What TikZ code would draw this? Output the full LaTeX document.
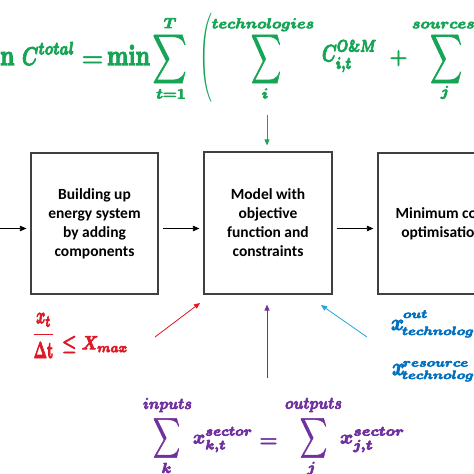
\documentclass[tikz,border=0pt]{standalone}
\usepackage{amsmath}
\usepackage[no-math]{fontspec}
\setmainfont{Carlito}
\usetikzlibrary{arrows.meta}
\definecolor{eqgreen}{RGB}{22,165,85}
\definecolor{eqred}{RGB}{222,24,36}
\definecolor{eqblue}{RGB}{0,112,192}
\definecolor{arrblue}{RGB}{35,165,220}
\definecolor{eqpurple}{RGB}{112,48,160}
\definecolor{boxgray}{RGB}{64,64,64}
\newcommand\heavy[1]{\special{pdf:literal direct 2 Tr #1 w}}
\newcommand\light{\special{pdf:literal direct 0 Tr}}
\newcommand\fitmath[3]{\resizebox*{#1pt}{#2pt}{\heavy{0.4}\boldmath$\displaystyle #3$\light}}
\newcommand\sumfit[2]{\resizebox*{#1pt}{#2pt}{\heavy{0.2}\boldmath$\displaystyle\sum$\light}}
\newcommand\limtxt[1]{\scalebox{1.1}[1]{\heavy{0.65}\fontsize{15.8}{16}\selectfont\boldmath$#1$\light}}
\newcommand\subtxt[1]{\scalebox{1.2}[1]{\heavy{0.55}\fontsize{12.4}{13}\selectfont\boldmath$#1$\light}}
\newcommand\symtxt[2]{{\heavy{0.5}\fontsize{#1}{#1}\selectfont\boldmath$#2$\light}}
\begin{document}
\begin{tikzpicture}[x=1pt,y=-1pt,
  piece/.style={inner sep=0pt, outer sep=0pt},
  blockbox/.style={draw=boxgray, line width=1.2pt, fill=white, minimum width=127pt,
    minimum height=141pt, align=center, inner sep=0pt,
    font=\fontsize{15.5}{19}\selectfont\bfseries},
  flow/.style={-{Triangle[length=6.5pt,width=5.5pt]}, line width=0.8pt},
  hint/.style={-{Triangle[length=6pt,width=5pt]}, line width=0.8pt}]
\useasboundingbox (0,0) rectangle (474,474);
\fill[white] (0,0) rectangle (474,474);
\clip (0,0) rectangle (474,474);

% boxes
\node[blockbox] (build) at (94.5,223.5) {Building up\\energy system\\by adding\\components};
\node[blockbox, minimum width=128pt, minimum height=142pt] (model) at (268,223) {Model with\\objective\\function and\\constraints};
\node[blockbox, minimum width=128pt] (mincost) at (442,223.5) {Minimum cost\\optimisation};

% main flow
\coordinate (leftin) at (-5,228.5);
\draw[flow, shorten >=4pt] (leftin) -- (build.west |- leftin);
\draw[flow, shorten <=4pt, shorten >=4pt] (build.east |- leftin) -- (model.west |- leftin);
\draw[flow, shorten <=4pt, shorten >=4pt] (model.east |- leftin) -- (mincost.west |- leftin);

% objective (green)
\begin{scope}[every node/.style={piece, text=eqgreen}]
\node[anchor=north east] (gmin1) at (14.5,45) {\fitmath{43}{20}{\mathbf{min}}};
\node[anchor=north west] (gC) at (22,42) {\fitmath{53}{23}{C^{total}}};
\node[anchor=base] (geq) at (92.5,66) {\symtxt{24}{=}};
\node[anchor=north west] (gmin2) at (107,45) {\fitmath{43}{20}{\mathbf{min}}};
\node (gsum1) at (169.5,59) {\sumfit{34}{55}};
\node[anchor=base] (gT) at (170,28) {\limtxt{T}};
\node[anchor=base] (gt1) at (171,98.5) {\limtxt{t{=}1}};
\node (gparen) at (205.5,57.5) {\resizebox*{13pt}{89pt}{$\Biggl($}};
\node[anchor=base] (gtech) at (263,28.3) {\limtxt{technologies}};
\node (gsum2) at (266,59) {\sumfit{30}{55}};
\node[anchor=base] (gi) at (265,98.5) {\limtxt{i}};
\node[anchor=north west] (gCom) at (322,40) {\fitmath{55}{32}{C^{O\&M}_{i,t}}};
\node[anchor=base] (gplus) at (398.5,63.4) {\symtxt{19.5}{+}};
\node (gsum3) at (446,59) {\sumfit{32}{55}};
\node[anchor=base west] (gsrc) at (412,28.3) {\limtxt{sources}};
\node[anchor=base] (gj) at (445,96) {\limtxt{j}};
\end{scope}
\coordinate (gtail) at (267,115);
\draw[hint, eqgreen, shorten >=6pt] (gtail) -- (model.north -| gtail);

% capacity constraint (red)
\begin{scope}[every node/.style={piece, text=eqred}]
\node[anchor=north west] (rfrac) at (32,313) {\fitmath{23}{45}{\frac{x_t}{\mathbf{\Delta t}}}};
\node[anchor=north west] (rle) at (62,336) {\fitmath{66}{17}{\le X_{max}}};
\end{scope}
\coordinate (rtail) at (155,337);
\coordinate (rtip) at (200,303);
\draw[hint, eqred] (rtail) -- (rtip);

% technology variables (blue)
\begin{scope}[every node/.style={piece, text=eqblue}]
\node[anchor=north west] (bx1) at (391,320) {\fitmath{13}{10}{x}};
\node[anchor=base west] (bout) at (403,318) {\subtxt{out}};
\node[anchor=base west] (btech1) at (402,335) {\subtxt{technology}};
\node[anchor=north west] (bx2) at (392,364) {\fitmath{13}{11}{x}};
\node[anchor=base west] (bres) at (403,366.5) {\subtxt{resource}};
\node[anchor=base west] (btech2) at (402,379) {\subtxt{technology}};
\end{scope}
\coordinate (btail) at (367,337);
\coordinate (btip) at (321,305);
\draw[hint, arrblue] (btail) -- (btip);

% balance (purple)
\begin{scope}[every node/.style={piece, text=eqpurple}]
\node[anchor=north west] (pin) at (143,398) {\fitmath{49}{14}{inputs}};
\node (psum1) at (166.5,438) {\sumfit{27}{45}};
\node[anchor=base] (pk) at (166.5,473) {\limtxt{k}};
\node[anchor=north west] (pxk) at (193,427) {\fitmath{60}{25}{x^{sector}_{k,t}}};
\node[anchor=base] (peq) at (268.5,446.4) {\symtxt{19.5}{=}};
\node[anchor=north west] (pout) at (285,398) {\fitmath{57}{14}{outputs}};
\node (psum2) at (313.5,438) {\sumfit{27}{45}};
\node[anchor=base] (pj) at (311.5,472) {\limtxt{j}};
\node[anchor=north west] (pxj) at (340,427) {\fitmath{65}{25}{x^{sector}_{j,t}}};
\end{scope}
\coordinate (ptail) at (267,378);
\draw[hint, eqpurple, shorten >=10pt] (ptail) -- (model.south -| ptail);
\end{tikzpicture}
\end{document}
